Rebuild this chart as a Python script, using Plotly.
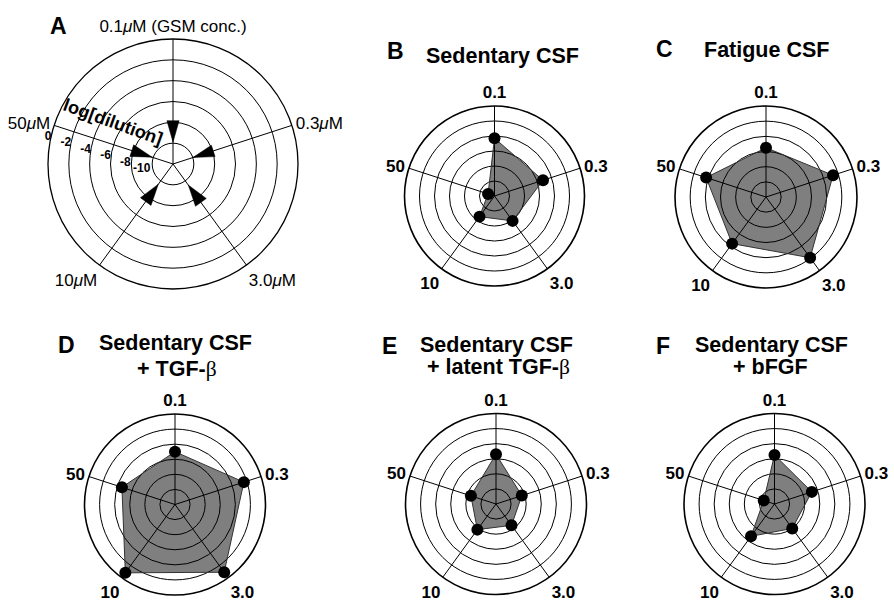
import plotly.graph_objects as go

# ---------------- data ----------------
categories = ["0.1", "0.3", "3.0", "10", "50"]
a_angles = [0, 72, 144, 216, 288]
a_labels = ["0.1<i>μ</i>M (GSM conc.)", "0.3<i>μ</i>M", "3.0<i>μ</i>M",
            "10<i>μ</i>M", "50<i>μ</i>M"]
ring_vals = [-10, -8, -6, -4, -2, 0]
ring_text = ["-10", "-8", "-6", "-4", "-2", "0"]

# schematic arrows in panel A (log dilution at arrow tip, pointing inwards)
arrow_tips = [-9.9, -10, -9.5, -9.6, -9.9]

sedentary = [-4.3, -5.2, -7.9, -8.6, -11.1]
fatigue = [-5.5, -2.7, -2.1, -4.4, -3.7]
tgf = [-5.0, -2.4, -0.9, -0.8, -4.6]
latent_tgf = [-5.4, -8.4, -8.5, -7.8, -8.5]
bfgf = [-5.5, -6.8, -8.0, -6.7, -10.5]

# ---------------- layout helpers ----------------
W, H = 894, 602
FONT = "Arial, Liberation Sans, sans-serif"
HEAD_LEN = 2.1    # arrowhead length (radial units)
HEAD_HALF = 8     # arrowhead half-opening (degrees)


def dom(cx, cy, R):
    return dict(x=[(cx - R) / W, (cx + R) / W], y=[1 - (cy + R) / H, 1 - (cy - R) / H])


def px(x, y):
    return x / W, 1 - y / H


panels = {
    "polar": (173, 164, 125),
    "polar2": (494.5, 196, 90),
    "polar3": (766, 197, 91),
    "polar4": (175, 504.5, 90.5),
    "polar5": (496, 504, 90.5),
    "polar6": (774.5, 504, 90.5),
}

fig = go.Figure()

# Panel A arrowheads
for tip, th in zip(arrow_tips, a_angles):
    base = tip + HEAD_LEN
    fig.add_trace(go.Scatterpolar(
        r=[tip, base, base, tip], theta=[th, th - HEAD_HALF, th + HEAD_HALF, th],
        mode="lines", fill="toself", fillcolor="black",
        line=dict(color="black", width=0.5),
        subplot="polar", showlegend=False, hoverinfo="skip"))

series = [sedentary, fatigue, tgf, latent_tgf, bfgf]
for i, vals in enumerate(series):
    sp = "polar%d" % (i + 2)
    fig.add_trace(go.Scatterpolar(
        r=vals + vals[:1], theta=categories + categories[:1], mode="lines",
        fill="toself", fillcolor="rgba(0,0,0,0.5)",
        line=dict(color="#333333", width=1),
        subplot=sp, showlegend=False, hoverinfo="skip"))
    fig.add_trace(go.Scatterpolar(
        r=vals, theta=categories, mode="markers",
        marker=dict(size=12, color="black"),
        subplot=sp, showlegend=False, hoverinfo="skip"))

layout = dict(width=W, height=H, margin=dict(l=0, r=0, t=0, b=0),
              paper_bgcolor="white", plot_bgcolor="white",
              font=dict(family=FONT, color="black"))

for name, (cx, cy, R) in panels.items():
    is_a = name == "polar"
    ang = dict(direction="clockwise", rotation=90, showline=True, linecolor="black",
               linewidth=1.3 if is_a else 1.6,
               showgrid=True, gridcolor="black", gridwidth=1.1 if is_a else 1.3,
               ticks="", ticklen=0,
               tickfont=dict(family=FONT, size=17, color="black",
                             weight="normal" if is_a else "bold"))
    if is_a:
        ang.update(type="linear", thetaunit="degrees", tickmode="array",
                   tickvals=a_angles, ticktext=a_labels)
    else:
        ang.update(type="category", categoryarray=categories)
    rad = dict(range=[-12, 0], tickmode="array", tickvals=ring_vals, ticktext=ring_text,
               showgrid=True, gridcolor="black", gridwidth=1.1 if is_a else 1.3,
               showline=False, ticks="", showticklabels=is_a)
    if is_a:
        rad.update(angle=162, side="counterclockwise", tickangle=162,
                   tickfont=dict(family=FONT, size=12, color="black", weight="bold"))
    layout[name] = dict(domain=dom(cx, cy, R), bgcolor="white",
                        angularaxis=ang, radialaxis=rad)

fig.update_layout(**layout)

# ---------------- titles ----------------
def ann(text, x, y, size, bold=True, angle=0):
    xx, yy = px(x, y)
    fig.add_annotation(text=text, x=xx, y=yy, xref="paper", yref="paper",
                       xanchor="center", yanchor="middle", showarrow=False,
                       textangle=angle,
                       font=dict(family=FONT, size=size, color="black",
                                 weight="bold" if bold else "normal"))

beta = '<span style="font-family:Liberation Serif, Times New Roman, serif;font-weight:normal">β</span>'

ann("A", 58.5, 26, 23)
ann("log[dilution]", 113, 122, 18, angle=20)
ann("B", 395, 51.5, 23)
ann("Sedentary CSF", 502, 56, 21.5)
ann("C", 664, 48.5, 23)
ann("Fatigue CSF", 766, 50, 21.5)
ann("D", 66, 345, 23)
ann("Sedentary CSF", 175, 343, 21.5)
ann("+ TGF-" + beta, 177, 368.5, 21.5)
ann("E", 389.5, 346, 23)
ann("Sedentary CSF", 496, 345, 21.5)
ann("+ latent TGF-" + beta, 498, 367, 21.5)
ann("F", 662.5, 346, 23)
ann("Sedentary CSF", 771, 345, 21.5)
ann("+ bFGF", 770, 367, 21.5)

fig.write_html("out.html")
